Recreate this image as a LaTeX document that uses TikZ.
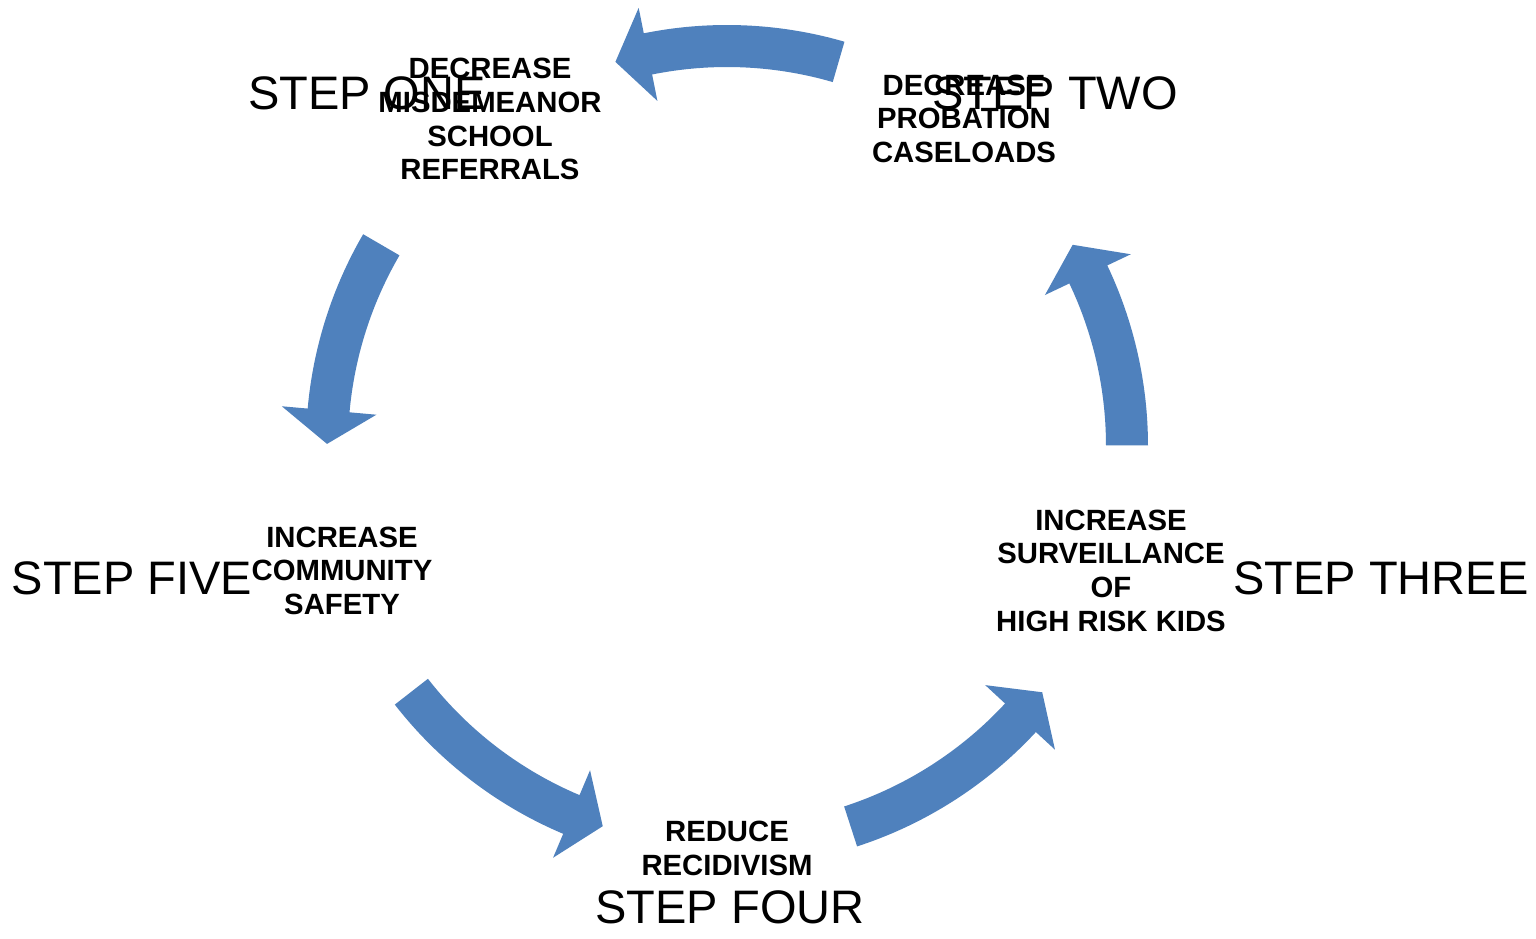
\documentclass[tikz,border=0pt]{standalone}
\usepackage{fontspec}
\setmainfont{Liberation Sans}
\usetikzlibrary{calc}

\definecolor{cycleblue}{RGB}{79,129,189}

% curved block arrow running counterclockwise round (ctr)
% #1 name, #2 tail angle, #3 tip angle
\newcommand{\cyclearrow}[3]{%
  \pgfmathsetmacro{\headbase}{#3-4.8}%
  \fill[cyclefill]
    ($(ctr)+(#2:379)$) coordinate (#1-tail)
    arc[start angle=#2, end angle=\headbase, radius=379]
    -- ($(ctr)+(\headbase:352)$)
    -- ($(ctr)+(#3:400)$) coordinate (#1-tip)
    -- ($(ctr)+(\headbase:447)$)
    -- ($(ctr)+(\headbase:421)$)
    arc[start angle=\headbase, end angle=#2, radius=421]
    -- cycle;
}

\tikzset{
  cyclefill/.style={fill=cycleblue},
  goal/.style={font=\fontsize{29.3}{33.7}\selectfont\bfseries, align=center,
    inner sep=0pt, anchor=north, text=black},
  steplabel/.style={font=\fontsize{47}{54}\selectfont, inner sep=0pt,
    anchor=base, text=black},
}

\begin{document}
\begin{tikzpicture}[x=1pt,y=1pt]
  \useasboundingbox (0,0) rectangle (1536,938);
  \fill[white] (0,0) rectangle (1536,938);

  \coordinate (ctr) at (727,492);

  % the five arrows of the cycle
  \cyclearrow{twoone}{73.8}{106.2}
  \cyclearrow{onefive}{149.8}{179.7}
  \cyclearrow{fivefour}{217.9}{251.9}
  \cyclearrow{fourthree}{288}{322}
  \cyclearrow{threetwo}{0.1}{30.2}

  % step names
  \node[steplabel] (s1) at (367,828) {STEP ONE};
  \node[steplabel] (s2) at (1055,828) {STEP TWO};
  \node[steplabel] (s3) at (1381,344) {STEP THREE};
  \node[steplabel] (s4) at (730,15) {STEP FOUR};
  \node[steplabel] (s5) at (132,344) {STEP FIVE};

  % goals of each step
  \node[goal] (g1) at (490,880) {DECREASE\\MISDEMEANOR\\SCHOOL\\REFERRALS};
  \node[goal] (g2) at (964,863.5) {DECREASE\\PROBATION\\CASELOADS};
  \node[goal] (g3) at (1111,428.5) {INCREASE\\SURVEILLANCE\\OF\\HIGH RISK KIDS};
  \node[goal] (g4) at (727,117) {REDUCE\\RECIDIVISM};
  \node[goal] (g5) at (342,411.5) {INCREASE\\COMMUNITY\\SAFETY};
\end{tikzpicture}
\end{document}
